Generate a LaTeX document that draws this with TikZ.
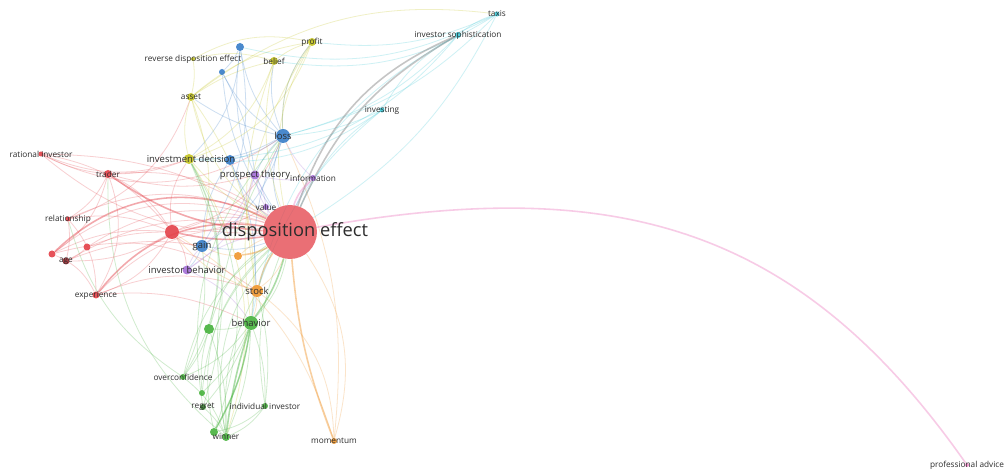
\documentclass[tikz,border=0pt]{standalone}
\usepackage{fontspec}
\setmainfont{Open Sans}
\usetikzlibrary{positioning,backgrounds}
\pgfdeclarelayer{myback}
\pgfsetlayers{myback,background,main}
\definecolor{cred}{RGB}{228,64,72}
\definecolor{cgreen}{RGB}{70,178,60}
\definecolor{cblue}{RGB}{55,125,200}
\definecolor{cyel}{RGB}{196,196,30}
\definecolor{cpurp}{RGB}{165,110,215}
\definecolor{ccyan}{RGB}{60,200,215}
\definecolor{corg}{RGB}{240,150,45}
\definecolor{cpink}{RGB}{238,140,200}
\definecolor{ctxt}{RGB}{45,45,45}
\tikzset{
  kw/.style  = {circle, inner sep=0pt, fill=#1, fill opacity=.9, text opacity=1},
  lb/.style  = {font=\fontsize{4.7}{5}\selectfont, text=ctxt, inner sep=0pt},
  lbm/.style = {font=\fontsize{5.4}{6}\selectfont, text=ctxt, inner sep=0pt},
  lbbig/.style = {font=\fontsize{10.4}{11}\selectfont, text=ctxt, inner sep=0pt},
  lk/.style  = {draw=#1, draw opacity=.25, line width=.45pt},
  lkh/.style = {draw=#1, draw opacity=.45, line width=.9pt}
}
\begin{document}
\begin{tikzpicture}[x=0.02cm,y=-0.02cm]
  \begin{pgfonlayer}{myback}
    \fill[white] (0,0) rectangle (1005,472);
  \end{pgfonlayer}
  \useasboundingbox (0,0) rectangle (1005,472);

  % red cluster
  \node[kw=cred, fill opacity=.75, minimum size=10.8mm, label={[lbbig,xshift=1mm]center:disposition effect}] (de) at (290,232) {};
  \node[kw=cred, minimum size=2.8mm] (r1) at (172,232) {};
  \node[kw=cred, minimum size=1.6mm, label={[lb]center:trader}] (trader) at (108,174) {};
  \node[kw=cred, minimum size=1.0mm, label={[lb]center:rational investor}] (ratinv) at (41,154) {};
  \node[kw=cred, minimum size=1.0mm, label={[lb]center:relationship}] (relationship) at (68,219) {};
  \node[kw=cred, minimum size=1.4mm] (r2) at (87,247) {};
  \node[kw=cred, minimum size=1.4mm] (r3) at (52,254) {};
  \node[kw=cred!70!black, minimum size=1.4mm, label={[lb]center:age}] (age) at (66,261) {};
  \node[kw=cred, minimum size=1.4mm, label={[lb]center:experience}] (experience) at (96,295) {};

  % blue cluster
  \node[kw=cblue, minimum size=2.4mm, label={[lbm]center:gain}] (gain) at (202,246) {};
  \node[kw=cblue, minimum size=2.8mm, label={[lbm]center:loss}] (loss) at (283,136) {};
  \node[kw=cblue, minimum size=1.6mm] (rde) at (240,47) {};
  \node[kw=cblue, minimum size=1.2mm] (b2) at (222,72) {};
  \node[kw=cblue, minimum size=2.0mm] (b3) at (230,160) {};

  % yellow cluster
  \node[kw=cyel, minimum size=2.0mm, label={[lbm,xshift=0.4mm]center:investment decision}] (invdec) at (189,159) {};
  \node[kw=cyel, minimum size=1.6mm, label={[lb]center:asset}] (asset) at (191,97) {};
  \node[kw=cyel, minimum size=1.6mm, label={[lb]center:belief}] (belief) at (274,61) {};
  \node[kw=cyel, minimum size=1.6mm, label={[lb]center:profit}] (profit) at (312,42) {};
  \node[kw=cyel, minimum size=0.8mm, label={[lb]center:reverse disposition effect}] (rdeff) at (193,59) {};

  % purple cluster
  \node[kw=cpurp, minimum size=1.8mm, label={[lbm]center:prospect theory}] (prospect) at (255,175) {};
  \node[kw=cpurp, minimum size=1.2mm, label={[lb]center:information}] (information) at (313,178) {};
  \node[kw=cpurp, minimum size=1.2mm, label={[lb]center:value}] (value) at (266,207) {};
  \node[kw=cpurp, minimum size=1.8mm, label={[lbm]center:investor behavior}] (invbeh) at (187,270) {};

  % orange cluster
  \node[kw=corg, minimum size=2.4mm, label={[lbm]center:stock}] (stock) at (257,291) {};
  \node[kw=corg, minimum size=1.6mm] (o2) at (238,256) {};
  \node[kw=corg, minimum size=1.2mm, label={[lb]center:momentum}] (momentum) at (334,441) {};

  % green cluster
  \node[kw=cgreen, minimum size=2.8mm, label={[lbm]center:behavior}] (behavior) at (251,323) {};
  \node[kw=cgreen, minimum size=2.0mm] (g2) at (209,329) {};
  \node[kw=cgreen, minimum size=1.2mm, label={[lb]center:overconfidence}] (overconf) at (183,377) {};
  \node[kw=cgreen, minimum size=1.2mm] (g3) at (202,393) {};
  \node[kw=cgreen!70!black, minimum size=1.2mm, label={[lb]center:regret}] (regret) at (203,407) {};
  \node[kw=cgreen, minimum size=1.2mm, label={[lb]center:individual investor}] (indinv) at (265,406) {};
  \node[kw=cgreen, minimum size=1.6mm] (g4) at (214,432) {};
  \node[kw=cgreen, minimum size=1.6mm, label={[lb]center:winner}] (winner) at (226,437) {};

  % cyan cluster
  \node[kw=ccyan, minimum size=1.0mm, label={[lb]center:investing}] (investing) at (382,110) {};
  \node[kw=ccyan, minimum size=1.2mm, label={[lb]center:investor sophistication}] (invsoph) at (458,35) {};
  \node[kw=ccyan, minimum size=1.0mm, label={[lb]center:taxis}] (taxis) at (497,14) {};

  % pink
  \node[kw=cpink, minimum size=0.8mm, label={[lb]center:professional advice}] (profadv) at (967,465) {};

  \begin{pgfonlayer}{background}
    \foreach \a/\b/\c in {de/r1/-20, de/trader/-20, de/ratinv/-15, de/relationship/-25,
        r3/de/30, r2/de/25, age/de/20, experience/de/25, r1/trader/-15, r1/ratinv/-20,
        r1/relationship/-15, r1/r2/-10, r1/r3/-15, r1/age/15, r1/experience/20,
        trader/ratinv/10, trader/relationship/15, trader/r3/20, trader/experience/25,
        relationship/age/10, relationship/experience/20, r2/age/10, r3/experience/20,
        ratinv/invdec/-20, trader/invdec/-10, r1/invdec/20, r1/gain/-20, r1/invbeh/15,
        experience/stock/20, age/gain/15, ratinv/de/-20, r1/loss/-25, trader/prospect/-15,
        experience/behavior/15, r3/stock/25, r1/value/-15, ratinv/loss/-30, relationship/asset/-25}
      \path[lk=cred] (\a) edge[bend left=\c] (\b);
    \foreach \a/\b/\c in {r3/de/35, r1/de/-10, experience/de/30, trader/de/-15}
      \path[lkh=cred] (\a) edge[bend left=\c] (\b);
    \foreach \a/\b/\c in {loss/de/-20, loss/gain/20, loss/rde/15, loss/b2/15, loss/b3/10,
        loss/prospect/-10, loss/invdec/15, loss/belief/15, loss/profit/20, loss/asset/10,
        gain/de/-15, gain/b3/15, rde/b2/10, rde/invdec/20, b2/de/-15, b2/prospect/10,
        rde/de/-20, b3/de/-15, gain/invbeh/10, loss/stock/-15, rde/gain/20, b3/behavior/15}
      \path[lk=cblue] (\a) edge[bend left=\c] (\b);
    \foreach \a/\b/\c in {invdec/asset/15, invdec/belief/-20, invdec/profit/-25, asset/belief/10,
        asset/profit/15, belief/profit/10, profit/de/-20, belief/de/-15, asset/de/-20,
        invdec/de/-10, rdeff/asset/10, rdeff/belief/15, rdeff/profit/20, profit/behavior/-20,
        belief/stock/-15, asset/behavior/20, profit/loss/-20, invdec/winner/25, asset/gain/15,
        asset/taxis/22}
      \path[lk=cyel] (\a) edge[bend left=\c] (\b);
    \foreach \a/\b/\c in {prospect/de/-15, information/de/-10, value/de/-10, invbeh/de/15,
        prospect/invbeh/20, prospect/value/10, information/loss/10, invbeh/gain/10,
        prospect/gain/15, invbeh/behavior/15, information/prospect/10}
      \path[lk=cpurp] (\a) edge[bend left=\c] (\b);
    \foreach \a/\b/\c in {stock/de/-15, o2/de/10, momentum/de/-25, momentum/stock/-25,
        stock/behavior/10, o2/gain/10, momentum/r1/-20, stock/r1/15, momentum/loss/-15}
      \path[lk=corg] (\a) edge[bend left=\c] (\b);
    \foreach \a/\b/\c in {de/momentum/-8, stock/de/10, o2/de/-10}
      \path[lkh=corg] (\a) edge[bend left=\c] (\b);
    \foreach \a/\b/\c in {behavior/de/-15, behavior/g2/10, behavior/overconf/15, behavior/regret/10,
        behavior/indinv/10, behavior/winner/10, behavior/g4/10, g2/winner/10, g2/overconf/10,
        overconf/winner/15, regret/winner/10, indinv/winner/15, g3/behavior/-10, g4/indinv/-15,
        g2/de/20, winner/de/25, overconf/de/20, indinv/de/15, g2/invdec/-20, winner/loss/20,
        g4/invdec/-25, overconf/invdec/-30, regret/loss/25, g3/g2/10, indinv/stock/-10,
        winner/stock/15, overconf/gain/-15, g4/de/30, g3/de/20, regret/invdec/-20,
        winner/trader/25, overconf/relationship/20}
      \path[lk=cgreen] (\a) edge[bend left=\c] (\b);
    \foreach \a/\b/\c in {behavior/de/-10, winner/behavior/5, g4/behavior/-10}
      \path[lkh=cgreen] (\a) edge[bend left=\c] (\b);
    \foreach \a/\b/\c in {investing/de/-15, investing/loss/10, investing/invsoph/15, invsoph/taxis/10,
        taxis/de/15, invsoph/loss/15, taxis/profit/15, invsoph/invdec/25, investing/stock/-15,
        taxis/loss/15, invsoph/behavior/-25, investing/invdec/20, taxis/belief/20, taxis/rde/20}
      \path[lk=ccyan] (\a) edge[bend left=\c] (\b);
    \path[lkh=gray] (de) edge[bend left=18] (invsoph) edge[bend left=24] (invsoph);
    \path[lkh=cpink] (de) edge[bend left=15] (information);
    \path[lkh=cpink] (de) to[out=10,in=125,looseness=1.1] (profadv);
  \end{pgfonlayer}
\end{tikzpicture}
\end{document}
